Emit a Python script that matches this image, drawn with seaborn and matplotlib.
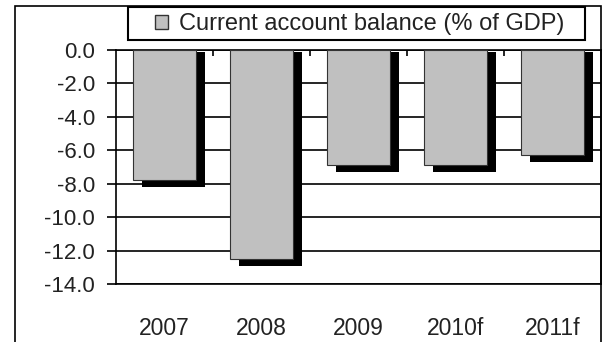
import matplotlib
matplotlib.use("Agg")
import matplotlib.pyplot as plt
import matplotlib.transforms as mtransforms
from matplotlib.patches import Rectangle
import seaborn as sns
import pandas as pd

# Data
years = ["2007", "2008", "2009", "2010f", "2011f"]
balance = [-7.8, -12.5, -6.9, -6.9, -6.3]
y_ticks = [0.0, -2.0, -4.0, -6.0, -8.0, -10.0, -12.0, -14.0]
series_label = "Current account balance (% of GDP)"

sns.set_theme(style="white")
plt.rcParams["font.family"] = ["Liberation Sans", "DejaVu Sans"]
plt.rcParams["axes.unicode_minus"] = False

df = pd.DataFrame({"year": years, "balance": balance})

W, H = 605, 342
fig = plt.figure(figsize=(W / 100, H / 100), dpi=100)
fig.patch.set_facecolor("white")
ax = fig.add_axes([116 / W, 1 - 284 / H, (601 - 116) / W, (284 - 50) / H])

BAR_GRAY = "#c0c0c0"
TEXT = "#222222"

# Drop shadow behind each bar
sns.barplot(data=df, x="year", y="balance", color="black", width=0.65,
            saturation=1, errorbar=None, ax=ax, zorder=2)
shadow = list(ax.patches)
offset = mtransforms.ScaledTranslation(9 / 100, -7 / 100, fig.dpi_scale_trans)
for p in shadow:
    p.set_y(p.get_y() + 0.3)
    p.set_height(p.get_height() - 0.3)
    p.set_transform(ax.transData + offset)
    p.set_edgecolor("none")

# Main bars
sns.barplot(data=df, x="year", y="balance", color=BAR_GRAY, width=0.65,
            saturation=1, errorbar=None, edgecolor="#333333", linewidth=0.8,
            ax=ax, zorder=3)

# Axes styling
ax.set_ylim(min(y_ticks), max(y_ticks))
ax.set_xlim(-0.5, len(years) - 0.5)
ax.set_yticks(y_ticks)
ax.set_yticklabels([f"{v:.1f}" for v in y_ticks])
ax.yaxis.grid(True, color="black", linewidth=1.2)
ax.set_axisbelow(True)
ax.set_xlabel("")
ax.set_ylabel("")
for s in ax.spines.values():
    s.set_visible(True)
    s.set_color("black")
    s.set_linewidth(1.2)

ax.tick_params(axis="y", direction="out", length=6.5, width=1.2, color="black",
               pad=8.5, labelsize=16, labelcolor=TEXT, left=True)
ax.tick_params(axis="x", which="major", length=0, pad=24, labelsize=16.5,
               labelcolor=TEXT)
ax.set_xticks([i + 0.5 for i in range(len(years) - 1)], minor=True)
ax.tick_params(axis="x", which="minor", top=True, bottom=False,
               direction="in", length=4, width=1.2, color="black")

# Legend with its own frame
handle = Rectangle((0, 0), 1, 1, facecolor=BAR_GRAY, edgecolor="#333333", linewidth=1)
fig.legend(handles=[handle], labels=[series_label], loc="center left",
           bbox_to_anchor=(155 / W, 1 - 24 / H), frameon=False, borderpad=0,
           borderaxespad=0, handlelength=0.55, handleheight=0.55,
           handletextpad=0.45, fontsize=17, labelcolor=TEXT)
fig.patches.append(Rectangle((128 / W, 1 - 40 / H), (585 - 128) / W, 33 / H,
                             transform=fig.transFigure, fill=False,
                             edgecolor="black", linewidth=1.5))

# Chart border
fig.patches.append(Rectangle((15 / W, -0.1), (601 - 15) / W, 1.1 - 6 / H,
                             transform=fig.transFigure, fill=False,
                             edgecolor="black", linewidth=1.2))

fig.savefig("out.png", dpi=100)
